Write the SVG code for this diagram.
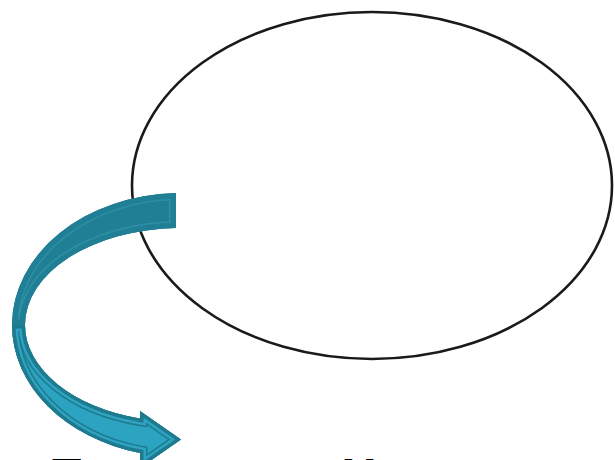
<svg xmlns="http://www.w3.org/2000/svg" width="615" height="460" viewBox="0 0 615 460">
<style>
.ell{fill:none;stroke:#1a1a1a;stroke-width:2.6}
.lbl{font-family:"Liberation Sans",Arial,sans-serif;font-weight:bold;font-size:48px;fill:#000}
</style>
<defs>
<path id="front" d="M 12,325 A 169 132 0 0 0 140,453 L 140,468 L 181,439.5 L 140,411 L 140,418.6 A 156 97 0 0 1 25,325 Z"/>
<path id="back" d="M 176,193.06 A 169 132 0 0 0 12,325 L 25,325 A 156 97 0 0 1 176,228.05 Z"/>
<clipPath id="cf"><use href="#front"/></clipPath>
<clipPath id="cb"><use href="#back"/></clipPath>
</defs>
<rect width="615" height="460" fill="#fff"/>
<g id="ellipse-node"><ellipse class="ell" cx="372" cy="185.5" rx="240" ry="173.5"/></g>
<g id="connectors">
 <g id="curved-arrow">
  <g clip-path="url(#cf)">
   <use href="#front" fill="#2CA3C0"/>
   <use href="#front" fill="none" stroke="#1F7A8E" stroke-width="15"/>
   <use href="#front" fill="none" stroke="#2CA3C0" stroke-width="12"/>
   <use href="#front" fill="none" stroke="#1F7A8E" stroke-width="7"/>
  </g>
  <g clip-path="url(#cb)">
   <use href="#back" fill="#207F94"/>
   <use href="#back" fill="none" stroke="#2C90A6" stroke-width="14"/>
   <use href="#back" fill="none" stroke="#207F94" stroke-width="11"/>
  </g>
 </g>
</g>
<g id="label-t"><text class="lbl" x="52" y="492">T</text></g>
<g id="label-x"><text class="lbl" x="343" y="492">X</text></g>
</svg>
